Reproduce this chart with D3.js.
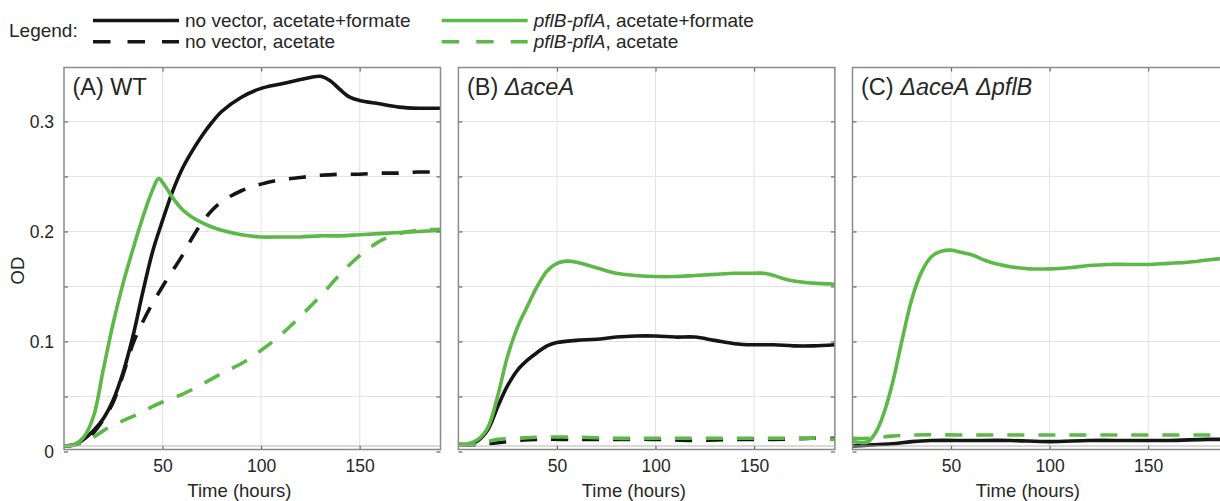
<!DOCTYPE html>
<html>
<head>
<meta charset="utf-8">
<script src="https://cdn.jsdelivr.net/npm/d3@7"></script>
<style>
body { margin: 0; background: #fff; }
text { font-family: "Liberation Sans", Arial, sans-serif; fill: #262626; }
</style>
</head>
<body>
<script>
// time (hours) and OD readings, per panel and series
var aNoVecAF_t = [0,5,10,15,20,25,30,35,40,45,50,55,60,65,70,75,80,90,100,110,120,125,130,135,140,145,150,160,170,180,191];
var aNoVecAF = [.005,.006,.011,.019,.030,.047,.072,.105,.145,.182,.210,.236,.257,.273,.287,.299,.309,.322,.330,.334,.338,.340,.341,.337,.329,.322,.319,.316,.313,.312,.312];
var aNoVecA_t = [0,5,10,15,20,25,30,35,40,45,50,55,60,65,70,75,80,90,100,110,120,130,140,150,160,170,180,191];
var aNoVecA = [.005,.006,.009,.017,.029,.045,.070,.098,.118,.135,.150,.164,.178,.194,.208,.219,.227,.237,.243,.247,.249,.251,.252,.252,.253,.253,.254,.254];
var aPflAF_t = [0,5,10,15,20,25,30,35,40,45,48,51,55,60,65,70,75,80,90,100,110,120,130,140,150,160,170,180,191];
var aPflAF = [.005,.006,.013,.032,.075,.117,.153,.184,.213,.238,.248,.242,.231,.220,.213,.208,.204,.201,.197,.195,.195,.195,.196,.196,.197,.198,.199,.200,.201];
var aPflA_t = [0,5,10,15,20,25,30,35,40,45,50,60,70,80,90,100,110,120,130,140,150,160,170,180,191];
var aPflA = [.005,.006,.009,.013,.019,.024,.028,.032,.036,.041,.045,.052,.061,.071,.080,.092,.106,.123,.141,.161,.178,.191,.198,.201,.202];

var bNoVecAF_t = [0,5,10,15,20,25,30,35,40,45,50,60,70,80,90,100,110,120,130,140,150,160,170,180,191];
var bNoVecAF = [.006,.006,.010,.020,.041,.060,.074,.083,.090,.096,.099,.101,.102,.104,.105,.105,.104,.104,.101,.098,.097,.097,.096,.096,.097];
var bNoVecA_t = [0,10,15,20,30,40,60,80,100,120,140,160,180,191];
var bNoVecA = [.006,.006,.007,.008,.010,.011,.011,.011,.011,.010,.011,.011,.012,.012];
var bPflAF_t = [0,5,10,15,20,25,30,35,40,45,50,55,60,70,80,90,100,110,120,130,140,150,155,160,165,170,180,191];
var bPflAF = [.007,.007,.011,.022,.051,.087,.113,.132,.150,.164,.171,.173,.172,.167,.162,.160,.159,.159,.160,.161,.162,.162,.162,.160,.157,.155,.153,.152];
var bPflA_t = [0,10,15,20,30,40,60,80,100,120,140,160,180,191];
var bPflA = [.006,.007,.009,.011,.012,.013,.013,.012,.012,.012,.012,.012,.012,.011];

var cNoVecAF_t = [0,10,20,30,40,60,80,100,120,140,160,180,191];
var cNoVecAF = [.005,.006,.007,.009,.010,.010,.010,.009,.010,.010,.010,.011,.011];
var cPflAF_t = [0,5,8,12,15,20,25,30,35,40,45,50,55,60,70,80,90,100,110,120,130,140,150,160,170,180,191];
var cPflAF = [.009,.008,.009,.018,.030,.060,.100,.138,.163,.177,.182,.183,.181,.179,.172,.168,.166,.166,.167,.169,.170,.170,.170,.171,.172,.174,.176];
var cPflA_t = [0,10,20,30,60,100,140,180,191];
var cPflA = [.012,.012,.014,.015,.015,.015,.015,.015,.015];

var xTicks = [50,100,150];
var yTicks = [0,0.1,0.2,0.3];
var yTickLabels = ["0","0.1","0.2","0.3"];
var yMinor = [0.05,0.15,0.25];

var black = "#151515", green = "#5cb947";

var svg = d3.select("body").append("svg").attr("width",1220).attr("height",501);

function zip(t, v){ return t.map(function(d,i){ return [d, v[i]]; }); }

var panels = [
  {x0:64, id:"A", label:[["(A) WT",false]], ylab:true,
   series:[[aNoVecAF_t,aNoVecAF,black,false],[aNoVecA_t,aNoVecA,black,true],[aPflAF_t,aPflAF,green,false],[aPflA_t,aPflA,green,true]]},
  {x0:458.4, id:"B", label:[["(B) ",false],["\u0394aceA",true]], ylab:false,
   series:[[bNoVecAF_t,bNoVecAF,black,false],[bNoVecA_t,bNoVecA,black,true],[bPflAF_t,bPflAF,green,false],[bPflA_t,bPflA,green,true]]},
  {x0:852.5, id:"C", label:[["(C) ",false],["\u0394aceA",true],[" ",false],["\u0394pflB",true]], ylab:false,
   series:[[cNoVecAF_t,cNoVecAF,black,false],[cPflAF_t,cPflAF,green,false],[cPflA_t,cPflA,green,true]]}
];

var plotTop = 67.5, plotBot = 449.5, w = 376.5;
var y = d3.scaleLinear().domain([0,0.349]).range([451.5,67.5]);

panels.forEach(function(p){
  var x = d3.scaleLinear().domain([0,191]).range([p.x0, p.x0+w]);
  var g = svg.append("g");

  // grid
  g.selectAll(".vg").data(xTicks).enter().append("line")
    .attr("x1",function(d){return x(d);}).attr("x2",function(d){return x(d);})
    .attr("y1",plotTop).attr("y2",plotBot).attr("stroke","#e3e3e3").attr("stroke-width",1);
  g.selectAll(".hg").data(yTicks.concat(yMinor).filter(function(d){return d>0;})).enter().append("line")
    .attr("x1",p.x0).attr("x2",p.x0+w)
    .attr("y1",function(d){return y(d);}).attr("y2",function(d){return y(d);})
    .attr("stroke","#e3e3e3").attr("stroke-width",1);

  // data
  svg.append("clipPath").attr("id","clip"+p.id).append("rect")
    .attr("x",p.x0).attr("y",plotTop).attr("width",w).attr("height",plotBot-plotTop);
  var line = d3.line().x(function(d){return x(d[0]);}).y(function(d){return y(d[1]);})
    .curve(d3.curveCatmullRom.alpha(0.5));
  var dg = g.append("g").attr("clip-path","url(#clip"+p.id+")");
  p.series.forEach(function(s){
    dg.append("path").datum(zip(s[0],s[1]))
      .attr("d",line).attr("fill","none").attr("stroke",s[2]).attr("stroke-width",3.6)
      .attr("stroke-dasharray", s[3] ? "17,14" : null);
  });

  // axes, ticks pointing inward
  g.append("g").attr("transform","translate(0,"+plotBot+")")
    .call(d3.axisBottom(x).tickValues(xTicks).tickSize(-4).tickSizeOuter(0).tickPadding(10));
  g.append("g").attr("transform","translate(0,"+plotTop+")")
    .call(d3.axisTop(x).tickValues(xTicks).tickSize(-4).tickSizeOuter(0).tickFormat(""));
  g.append("g").attr("transform","translate("+p.x0+",0)")
    .call(d3.axisLeft(y).tickValues(yTicks).tickSize(-4).tickSizeOuter(0).tickPadding(10)
      .tickFormat(function(d,i){ return p.ylab ? yTickLabels[i] : ""; }));
  g.append("g").attr("transform","translate("+p.x0+",0)")
    .call(d3.axisLeft(y).tickValues(yMinor).tickSize(-4).tickSizeOuter(0).tickFormat(""));
  g.append("g").attr("transform","translate("+(p.x0+w)+",0)")
    .call(d3.axisRight(y).tickValues(yTicks.concat(yMinor)).tickSize(-4).tickSizeOuter(0).tickFormat(""));
  g.selectAll(".domain").remove();
  g.selectAll(".tick line").attr("stroke","#666").attr("stroke-width",1.2);
  g.selectAll(".tick text").attr("font-size",17.5).attr("fill","#262626")
    .attr("font-family","'Liberation Sans', Arial, sans-serif");

  // box
  g.append("rect").attr("x",p.x0).attr("y",plotTop).attr("width",w).attr("height",plotBot-plotTop)
    .attr("fill","none").attr("stroke","#8a8a8a").attr("stroke-width",1.5);
  g.append("line").attr("x1",p.x0).attr("x2",p.x0+w).attr("y1",446).attr("y2",446)
    .attr("stroke","#b5b5b5").attr("stroke-width",1);

  // title
  var tt = g.append("text").attr("x",p.x0+8.5).attr("y",95).attr("font-size",23.5);
  p.label.forEach(function(l){
    tt.append("tspan").text(l[0]).attr("font-style", l[1] ? "italic" : null);
  });

  g.append("text").attr("x",x(89)).attr("y",497).attr("text-anchor","middle")
    .attr("font-size",18.5).text("Time (hours)");
});

svg.append("text").attr("transform","translate(24,270.5) rotate(-90)")
  .attr("text-anchor","middle").attr("font-size",18.5).text("OD");

// legend
var legend = [
  {x:93, y:20.5, c:black, dash:false, parts:[["no vector, acetate+formate",false]]},
  {x:93, y:41.7, c:black, dash:true, parts:[["no vector, acetate",false]]},
  {x:441.7, y:20.5, c:green, dash:false, parts:[["pflB-pflA",true],[", acetate+formate",false]]},
  {x:441.7, y:41.7, c:green, dash:true, parts:[["pflB-pflA",true],[", acetate",false]]}
];
svg.append("text").attr("x",9).attr("y",36.5).attr("font-size",19).text("Legend:");
legend.forEach(function(l){
  svg.append("line").attr("x1",l.x).attr("x2",l.x+86).attr("y1",l.y).attr("y2",l.y)
    .attr("stroke",l.c).attr("stroke-width",3.5)
    .attr("stroke-dasharray", l.dash ? "17.5,17" : null);
  var t = svg.append("text").attr("x",l.x+92).attr("y",l.y+6.5).attr("font-size",19);
  l.parts.forEach(function(pp){
    t.append("tspan").text(pp[0]).attr("font-style", pp[1] ? "italic" : null);
  });
});
</script>
</body>
</html>
